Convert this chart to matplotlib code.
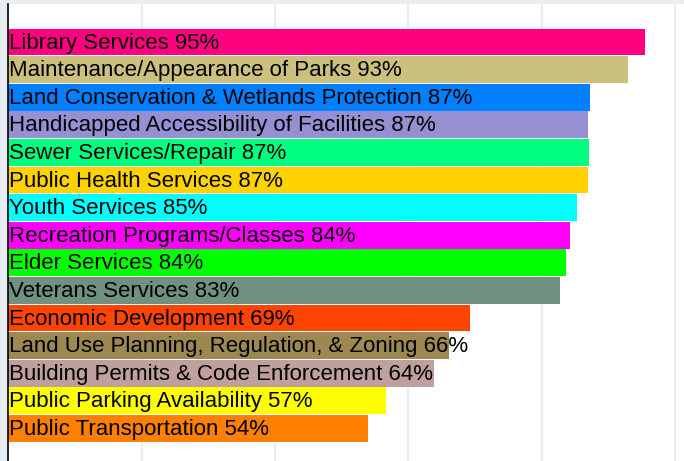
import matplotlib.pyplot as plt

# services, top to bottom
services = [
    "Library Services",
    "Maintenance/Appearance of Parks",
    "Land Conservation & Wetlands Protection",
    "Handicapped Accessibility of Facilities",
    "Sewer Services/Repair",
    "Public Health Services",
    "Youth Services",
    "Recreation Programs/Classes",
    "Elder Services",
    "Veterans Services",
    "Economic Development",
    "Land Use Planning, Regulation, & Zoning",
    "Building Permits & Code Enforcement",
    "Public Parking Availability",
    "Public Transportation",
]
# bar lengths (percent)
values = [95.5, 93.0, 87.3, 87.0, 87.1, 86.9, 85.3, 84.2, 83.7, 82.8,
          69.2, 66.1, 63.8, 56.7, 53.9]
# percent shown in the labels
shown = [95, 93, 87, 87, 87, 87, 85, 84, 84, 83, 69, 66, 64, 57, 54]
colors = ["#FF0080", "#CCC07E", "#0080FF", "#9490D2", "#00FF80",
          "#FFD200", "#00FFFF", "#FF00FF", "#00FF00", "#709082",
          "#FF4400", "#9C8850", "#C0A09E", "#FFFF00", "#FF8000"]

W, H = 684, 461
fig = plt.figure(figsize=(W / 100, H / 100), dpi=100, facecolor="#E8EEF1")
left, top = 8.4, 4
ax = fig.add_axes([left / W, 0, 1 - left / W, 1 - top / H])
ax.set_facecolor("white")

pos = list(range(len(services)))
ax.barh(pos, values, height=0.97, color=colors, linewidth=0, zorder=2)

for p, name, v in zip(pos, services, shown):
    ax.text(0.15, p + 0.04, f"{name} {v}%", va="center", ha="left",
            fontsize=16.0, family="Liberation Sans", color="black", zorder=3)

px_per_unit = (675 - left) / 100
ax.set_xlim(0, (W - left) / px_per_unit)
pitch = 27.6
span = (H - top) / pitch
y_top = -(42 - top) / pitch
ax.set_ylim(y_top + span, y_top)

ax.set_xticks([20, 40, 60, 80, 100])
ax.grid(axis="x", color="#E8EEF1", linewidth=1.6, zorder=0)
ax.tick_params(left=False, bottom=False, labelleft=False, labelbottom=False)
for side in ["top", "right", "bottom"]:
    ax.spines[side].set_visible(False)
ax.spines["left"].set_color("black")
ax.spines["left"].set_linewidth(1.2)

fig.savefig("out.png", dpi=100, facecolor=fig.get_facecolor())
